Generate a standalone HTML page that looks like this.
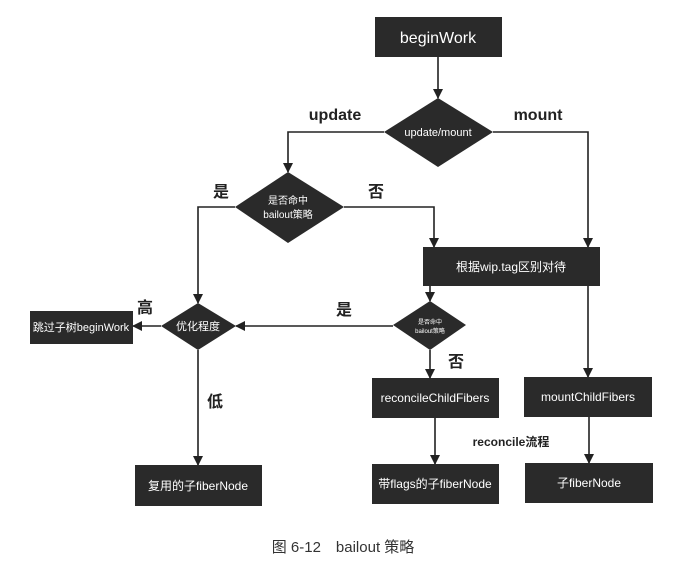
<!DOCTYPE html>
<html><head><meta charset="utf-8"><style>
html,body{margin:0;padding:0;background:#fff;}
svg{display:block;}
text{font-family:"Liberation Sans","Noto Sans CJK SC",sans-serif;}
</style></head><body>
<svg width="677" height="578" viewBox="0 0 677 578" xmlns="http://www.w3.org/2000/svg">
<defs><marker id="a" markerWidth="10" markerHeight="10" refX="9" refY="5" orient="auto" markerUnits="userSpaceOnUse"><path d="M0,0 L10,5 L0,10 z" fill="#222"/></marker></defs>
<g stroke="#222" stroke-width="1.6" fill="none">
<path d="M438 57 V98" marker-end="url(#a)"/>
<path d="M384 132 H288 V172" marker-end="url(#a)"/>
<path d="M493 132 H588 V247" marker-end="url(#a)"/>
<path d="M235 207 H198 V303" marker-end="url(#a)"/>
<path d="M344 207 H434 V247" marker-end="url(#a)"/>
<path d="M430 286 V301" marker-end="url(#a)"/>
<path d="M393 326 H236" marker-end="url(#a)"/>
<path d="M161 326 H133" marker-end="url(#a)"/>
<path d="M198 350 V465" marker-end="url(#a)"/>
<path d="M430 350 V378" marker-end="url(#a)"/>
<path d="M588 286 V377" marker-end="url(#a)"/>
<path d="M435 418 V464" marker-end="url(#a)"/>
<path d="M589 417 V463" marker-end="url(#a)"/>
</g>
<g fill="#2a2a2a">
<rect x="375" y="17" width="127" height="40"/>
<polygon points="438,98 493,132 438,167 384,132"/>
<polygon points="288,172 344,207 288,243 235,207"/>
<rect x="423" y="247" width="177" height="39"/>
<polygon points="198,303 236,326 198,350 161,326"/>
<rect x="30" y="311" width="103" height="33"/>
<polygon points="430,301 466,325 430,350 393,325"/>
<rect x="372" y="378" width="127" height="40"/>
<rect x="524" y="377" width="128" height="40"/>
<rect x="135" y="465" width="127" height="41"/>
<rect x="372" y="464" width="127" height="40"/>
<rect x="525" y="463" width="128" height="40"/>
</g>
<g fill="#fff" text-anchor="middle">
<text x="438" y="43" font-size="16">beginWork</text>
<text x="438" y="136" font-size="11">update/mount</text>
<text x="288" y="204" font-size="10">是否命中</text>
<text x="288" y="218" font-size="10">bailout策略</text>
<text x="511" y="271" font-size="12">根据wip.tag区别对待</text>
<text x="198" y="330" font-size="11">优化程度</text>
<text x="81" y="331" font-size="11">跳过子树beginWork</text>
<text x="430" y="324" font-size="6">是否命中</text>
<text x="430" y="333" font-size="6">bailout策略</text>
<text x="435" y="402" font-size="12">reconcileChildFibers</text>
<text x="588" y="401" font-size="12">mountChildFibers</text>
<text x="198" y="490" font-size="12">复用的子fiberNode</text>
<text x="435" y="488" font-size="12">带flags的子fiberNode</text>
<text x="589" y="487" font-size="12">子fiberNode</text>
</g>
<g fill="#222" font-weight="bold" text-anchor="middle">
<text x="335" y="120" font-size="16">update</text>
<text x="538" y="120" font-size="16">mount</text>
<text x="221" y="197" font-size="16">是</text>
<text x="376" y="197" font-size="16">否</text>
<text x="145" y="313" font-size="16">高</text>
<text x="344" y="315" font-size="16">是</text>
<text x="456" y="367" font-size="16">否</text>
<text x="215" y="407" font-size="16">低</text>
<text x="511" y="446" font-size="12">reconcile流程</text>
</g>
<text x="343" y="552" font-size="15" fill="#333" text-anchor="middle">图 6-12　bailout 策略</text>
</svg>
</body></html>
